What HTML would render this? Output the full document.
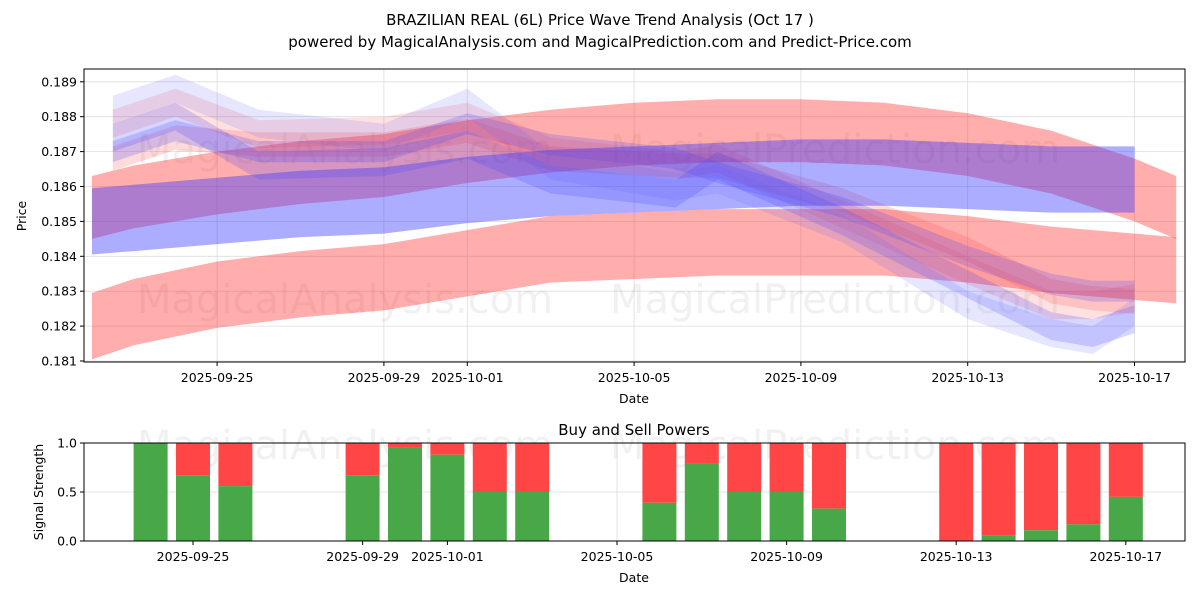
<!DOCTYPE html>
<html><head><meta charset="utf-8"><style>
body{margin:0;background:#fff;font-family:"Liberation Sans","DejaVu Sans",sans-serif}
svg text{font-family:"DejaVu Sans","Liberation Sans",sans-serif}
</style></head><body>
<svg id="c" width="1200" height="600" xmlns="http://www.w3.org/2000/svg">
<text x="600" y="25" text-anchor="middle" font-size="15">BRAZILIAN REAL (6L) Price Wave Trend Analysis (Oct 17 )</text>
<text x="600" y="47" text-anchor="middle" font-size="15">powered by MagicalAnalysis.com and MagicalPrediction.com and Predict-Price.com</text>
<g id="topg"></g><g id="botg"></g>
</svg>
<script>
// day index = days since 2025-09-22
const tickDays=[3,7,9,13,17,21,25];
const tickLabels=["2025-09-25","2025-09-29","2025-10-01","2025-10-05","2025-10-09","2025-10-13","2025-10-17"];
const priceTicks=[0.181,0.182,0.183,0.184,0.185,0.186,0.187,0.188,0.189];
const bandDays=[0,1,3,5,7,9,11,13,15,17,19,21,23,25,26];
const redLowVals=[0.1820,0.1824,0.1829,0.1832,0.1834,0.1838,0.1842,0.1843,0.1844,0.1844,0.1844,0.1842,0.1839,0.1837,0.1836];
const redHighVals=[0.1854,0.1857,0.1861,0.1864,0.1866,0.1870,0.1873,0.1875,0.1876,0.1876,0.1875,0.1872,0.1867,0.1859,0.1854];
const blueDays=[0,1,3,5,7,9,11,13,15,17,19,21,23,25];
const blueVals=[0.1850,0.1851,0.1853,0.1855,0.1856,0.1859,0.1861,0.1862,0.1863,0.1864,0.1864,0.1863,0.1862,0.1862];
const wispDays=[0.5,2,4,7,9,11,14,15,18,21,23,24,25];
const wisp1=[0.1874,0.1880,0.1866,0.1867,0.1872,0.1862,0.1858,0.1866,0.1850,0.1832,0.1820,0.1818,0.1822];
const wisp2=[0.1878,0.1884,0.1875,0.1876,0.1880,0.1870,0.1866,0.1868,0.1852,0.1836,0.1826,0.1826,0.1828];
const wisp3=[0.1870,0.1876,0.1870,0.1870,0.1878,0.1872,0.1868,0.1864,0.1854,0.1840,0.1832,0.1830,0.1830];
const wisp4=[0.1882,0.1888,0.1878,0.1874,0.1884,0.1866,0.1860,0.1862,0.1848,0.1826,0.1818,0.1816,0.1824];
const wisp5=[0.1868,0.1874,0.1872,0.1872,0.1876,0.1868,0.1866,0.1866,0.1856,0.1842,0.1830,0.1828,0.1827];
const barDays=[2,3,4,7,8,9,10,11,14,15,16,17,18,21,22,23,24,25];
const buyVals=[1.0,0.67,0.56,0.67,0.95,0.88,0.5,0.5,0.39,0.79,0.5,0.5,0.33,0.0,0.06,0.11,0.17,0.45];

const NS="http://www.w3.org/2000/svg";
function mk(p,t,a){const e=document.createElementNS(NS,t);for(const k in a)e.setAttribute(k,a[k]);p.appendChild(e);return e;}
const L=84,R=1185;
const xs=d=>92+d*41.7;
const xb=d=>193+(d-3)*42.4;
const ys=v=>361-(v-0.181)*34900;
const yb=v=>541-v*98;
const topG=document.getElementById('topg'),botG=document.getElementById('botg');
tickDays.forEach((d,i)=>{const l=mk(topG,'line',{x1:xs(d),x2:xs(d),y1:69,y2:362,stroke:'#ddd','stroke-width':0.8});

});
priceTicks.forEach(v=>{const l=mk(topG,'line',{x1:L,x2:R,y1:ys(v),y2:ys(v),stroke:'#ddd','stroke-width':0.8});

});
[[345,163],[345,313],[835,163],[835,313],[345,459],[835,459]].forEach((p,i)=>{const t=mk(topG,'text',{x:p[0],y:p[1],'text-anchor':'middle','font-size':40,fill:'#888','fill-opacity':0.12});
t.textContent=p[0]<600?'MagicalAnalysis.com':'MagicalPrediction.com';

});
function band(days,vals,w,color,op,name){
 const pts=[];days.forEach((d,i)=>pts.push(xs(d)+','+ys(vals[i]+w/2)));
 for(let i=days.length-1;i>=0;i--)pts.push(xs(days[i])+','+ys(vals[i]-w/2));
 const p=mk(topG,'polygon',{points:pts.join(' '),fill:color,'fill-opacity':op});
 
 }
band(bandDays,redLowVals,0.0019,'#f33',0.4,'red-band-low');
band(bandDays,redHighVals,0.0018,'#f33',0.4,'red-band-high');
band(wispDays,wisp2,0.0008,'#f44',0.16,'wave-band-2');
band(wispDays,wisp5,0.0007,'#f44',0.2,'wave-band-5');
band(blueDays,blueVals,0.0019,'#33f',0.4,'blue-band');
band(wispDays,wisp1,0.0008,'#44f',0.22,'wave-band-1');
band(wispDays,wisp3,0.0006,'#44f',0.22,'wave-band-3');
band(wispDays,wisp4,0.0008,'#66f',0.16,'wave-band-4');
let f=mk(topG,'rect',{x:L,y:69,width:R-L,height:293,fill:'none',stroke:'#000','stroke-width':1});


tickDays.forEach((d,i)=>{mk(topG,'line',{x1:xs(d),x2:xs(d),y1:362,y2:366,stroke:'#000'});
 const t=mk(topG,'text',{x:xs(d),y:382,'text-anchor':'middle','font-size':12.5});t.textContent=tickLabels[i];
 
 });
priceTicks.forEach(v=>{mk(topG,'line',{x1:L-4,x2:L,y1:ys(v),y2:ys(v),stroke:'#000'});
 const t=mk(topG,'text',{x:L-7,y:ys(v)+4.5,'text-anchor':'end','font-size':12.5});t.textContent=v.toFixed(3);
 
 });
let t=mk(topG,'text',{x:634,y:403,'text-anchor':'middle','font-size':12.5});t.textContent='Date';


t=mk(topG,'text',{x:26,y:216,'text-anchor':'middle','font-size':12.5,transform:'rotate(-90 26 216)'});t.textContent='Price';


t=mk(botG,'text',{x:634,y:435,'text-anchor':'middle','font-size':15});t.textContent='Buy and Sell Powers';


tickDays.forEach(d=>mk(botG,'line',{x1:xb(d),x2:xb(d),y1:443,y2:541,stroke:'#ddd','stroke-width':0.8}));
[0,0.5,1].forEach(v=>mk(botG,'line',{x1:L,x2:R,y1:yb(v),y2:yb(v),stroke:'#ddd','stroke-width':0.8}));
barDays.forEach((d,i)=>{const bw=34,x=xb(d)-bw/2;
 const s=mk(botG,'rect',{x:x,y:yb(1),width:bw,height:yb(buyVals[i])-yb(1),fill:'#ff4545'});
 
 
 const b=mk(botG,'rect',{x:x,y:yb(buyVals[i]),width:bw,height:yb(0)-yb(buyVals[i]),fill:'#48a848'});
 
 });
f=mk(botG,'rect',{x:L,y:443,width:R-L,height:98,fill:'none',stroke:'#000'});


tickDays.forEach((d,i)=>{mk(botG,'line',{x1:xb(d),x2:xb(d),y1:541,y2:545,stroke:'#000'});
 const t=mk(botG,'text',{x:xb(d),y:561,'text-anchor':'middle','font-size':12.5});t.textContent=tickLabels[i];
 
 });
[0,0.5,1].forEach(v=>{mk(botG,'line',{x1:L-4,x2:L,y1:yb(v),y2:yb(v),stroke:'#000'});
 const t=mk(botG,'text',{x:L-7,y:yb(v)+4.5,'text-anchor':'end','font-size':12.5});t.textContent=v.toFixed(1);
 
 });
t=mk(botG,'text',{x:634,y:582,'text-anchor':'middle','font-size':12.5});t.textContent='Date';


t=mk(botG,'text',{x:43,y:492,'text-anchor':'middle','font-size':12.5,transform:'rotate(-90 43 492)'});t.textContent='Signal Strength';


</script>
</body></html>
